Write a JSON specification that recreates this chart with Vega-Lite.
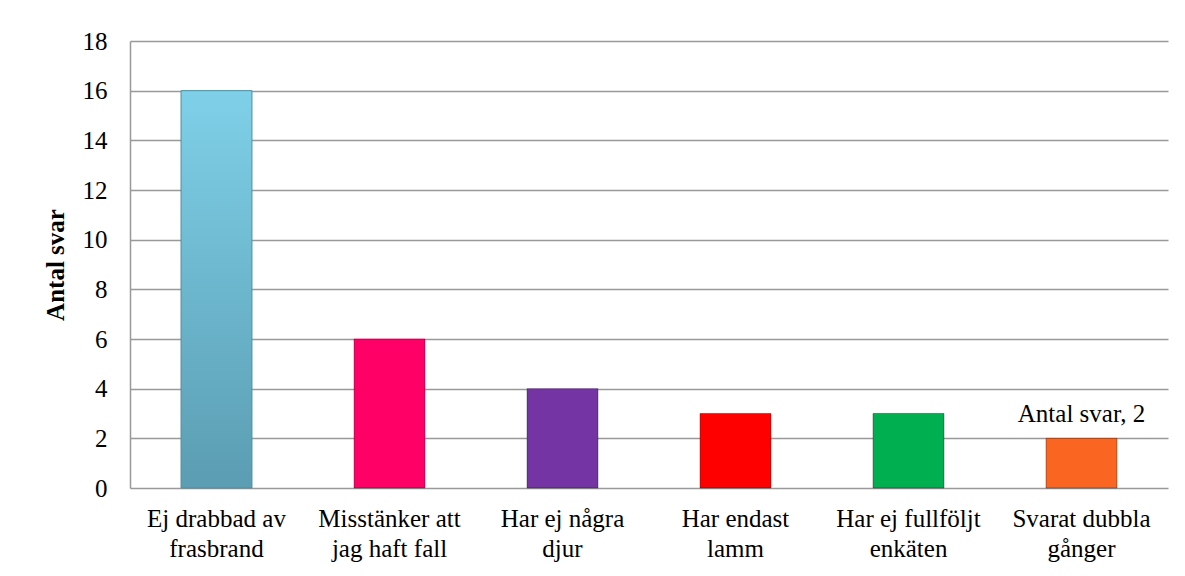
{
  "$schema": "https://vega.github.io/schema/vega-lite/v6.json",
  "width": 1038,
  "height": 447,
  "autosize": {"type": "none"},
  "padding": {"left": 130, "top": 41, "right": 17, "bottom": 88},
  "background": "white",
  "config": {
    "view": {"stroke": null},
    "font": "'Times New Roman', 'Liberation Serif', serif",
    "axis": {"labelFont": "'Times New Roman', 'Liberation Serif', serif", "titleFont": "'Times New Roman', 'Liberation Serif', serif", "labelColor": "#000", "titleColor": "#000"}
  },
  "data": {
    "values": [
      {"kategori": "Ej drabbad av\nfrasbrand", "antal": 16},
      {"kategori": "Misstänker att\njag haft fall", "antal": 6},
      {"kategori": "Har ej några\ndjur", "antal": 4},
      {"kategori": "Har endast\nlamm", "antal": 3},
      {"kategori": "Har ej fullföljt\nenkäten", "antal": 3},
      {"kategori": "Svarat dubbla\ngånger", "antal": 2}
    ]
  },
  "encoding": {
    "x": {
      "field": "kategori",
      "type": "nominal",
      "sort": null,
      "scale": {"paddingInner": 0.59, "paddingOuter": 0.295},
      "axis": {
        "title": null,
        "labelAngle": 0,
        "labelExpr": "split(datum.label, '\\n')",
        "labelFontSize": 25,
        "labelLineHeight": 30,
        "labelPadding": 18,
        "ticks": false,
        "domain": false,
        "grid": false,
        "labelLimit": 300
      }
    },
    "y": {
      "field": "antal",
      "type": "quantitative",
      "scale": {"domain": [0, 18], "nice": false},
      "axis": {
        "title": "Antal svar",
        "titleFontSize": 25,
        "titleFontWeight": "bold",
        "titlePadding": 14,
        "values": [0, 2, 4, 6, 8, 10, 12, 14, 16, 18],
        "labelFontSize": 25,
        "labelPadding": 23,
        "ticks": false,
        "domain": true,
        "domainColor": "#999999",
        "domainWidth": 1.5,
        "grid": true,
        "gridColor": "#999999",
        "gridWidth": 1.5
      }
    }
  },
  "layer": [
    {
      "transform": [{"filter": "datum.antal == 16"}],
      "mark": {
        "type": "bar",
        "color": {
          "gradient": "linear", "x1": 0, "y1": 0, "x2": 0, "y2": 1,
          "stops": [
            {"offset": 0, "color": "#7ed0e8"},
            {"offset": 1, "color": "#5b9db2"}
          ]
        },
        "stroke": "#4f8da0",
        "strokeWidth": 1
      }
    },
    {
      "transform": [{"filter": "datum.antal != 16"}],
      "mark": {"type": "bar", "strokeWidth": 1, "strokeOpacity": 0.35, "stroke": "#000"},
      "encoding": {
        "color": {
          "field": "kategori",
          "type": "nominal",
          "legend": null,
          "scale": {
            "domain": ["Misstänker att\njag haft fall", "Har ej några\ndjur", "Har endast\nlamm", "Har ej fullföljt\nenkäten", "Svarat dubbla\ngånger"],
            "range": ["#ff0066", "#7434a4", "#ff0000", "#00b050", "#fb6522"]
          }
        }
      }
    },
    {
      "transform": [
        {"filter": "datum.kategori == 'Svarat dubbla\\ngånger'"},
        {"calculate": "'Antal svar, ' + datum.antal", "as": "etikett"}
      ],
      "mark": {"type": "text", "fontSize": 25, "font": "'Times New Roman', 'Liberation Serif', serif", "baseline": "alphabetic", "dy": -16, "color": "#000"},
      "encoding": {"text": {"field": "etikett"}}
    }
  ]
}
